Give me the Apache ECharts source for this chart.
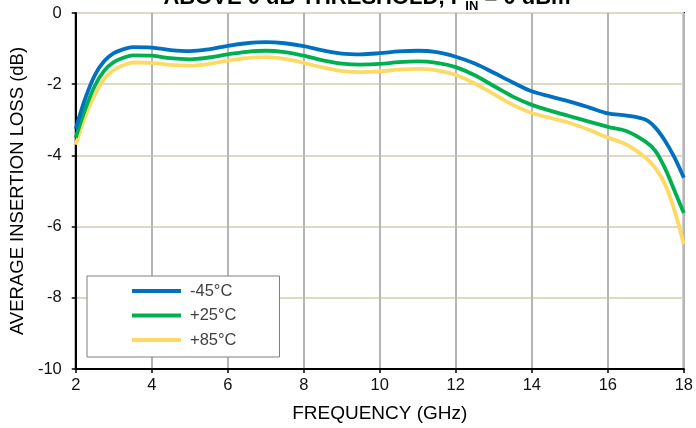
<!DOCTYPE html>
<html>
<head>
<meta charset="utf-8">
<script src="https://cdn.jsdelivr.net/npm/echarts@6/dist/echarts.min.js"></script>
<style>
  html, body { margin: 0; padding: 0; background: #fff; }
  #chart { width: 696px; height: 428px; }
</style>
</head>
<body>
<div id="chart"></div>
<script>
// Frequency points (GHz)
const freqGHz = [2, 2.25, 2.5, 2.75, 3, 3.25, 3.5, 4, 4.5, 5, 5.5, 6, 6.5, 7, 7.5, 8, 8.5, 9, 9.5, 10,
  10.5, 11, 11.5, 12, 12.5, 13, 13.5, 14, 14.5, 15, 15.5, 16, 16.5, 17, 17.25, 17.5, 17.75, 18];

// Average insertion loss (dB) per temperature
const lossMinus45 = [-3.25, -2.4, -1.75, -1.35, -1.13, -1.02, -0.96, -0.97, -1.04, -1.07, -1.02, -0.92, -0.85, -0.82,
  -0.85, -0.93, -1.05, -1.14, -1.16, -1.13, -1.08, -1.06, -1.1, -1.23, -1.42, -1.68, -1.95, -2.2, -2.35, -2.49,
  -2.65, -2.82, -2.88, -3.0, -3.22, -3.58, -4.05, -4.63];
const lossPlus25 = [-3.5, -2.7, -2.05, -1.62, -1.38, -1.26, -1.19, -1.2, -1.27, -1.3, -1.25, -1.16, -1.09, -1.06,
  -1.1, -1.2, -1.33, -1.42, -1.45, -1.43, -1.38, -1.36, -1.4, -1.52, -1.75, -2.05, -2.35, -2.58, -2.75, -2.9,
  -3.05, -3.2, -3.32, -3.62, -3.87, -4.35, -4.98, -5.62];
const lossPlus85 = [-3.7, -2.9, -2.3, -1.85, -1.6, -1.47, -1.39, -1.4, -1.46, -1.48, -1.43, -1.34, -1.27, -1.24,
  -1.29, -1.4, -1.53, -1.63, -1.66, -1.64, -1.59, -1.57, -1.61, -1.74, -1.98, -2.28, -2.58, -2.81, -2.95, -3.09,
  -3.28, -3.5, -3.7, -4.07, -4.36, -4.8, -5.53, -6.5];

const seriesNames = ['-45°C', '+25°C', '+85°C'];
const seriesColors = ['#0070c0', '#00b050', '#ffd966'];
const seriesData = [lossMinus45, lossPlus25, lossPlus85];

// Axis tick settings
const xMin = 2, xMax = 18, xStep = 2;
const yMin = -10, yMax = 0, yStep = 2;

const FONT = 'Liberation Sans, Arial, sans-serif';

const chart = echarts.init(document.getElementById('chart'), null, { renderer: 'canvas' });

chart.setOption({
  backgroundColor: '#fff',
  animation: false,
  title: {
    text: '{m|ABOVE 0 dB THRESHOLD, P}{s|IN}{m| = 0 dBm}',
    left: 362,
    textAlign: 'center',
    top: -18,
    textStyle: {
      rich: {
        m: { fontFamily: FONT, fontWeight: 'bold', fontSize: 22, color: '#000', lineHeight: 26, verticalAlign: 'top' },
        s: { fontFamily: FONT, fontWeight: 'bold', fontSize: 13, color: '#000', lineHeight: 26, verticalAlign: 'bottom', padding: [12, 0, 0, 0] }
      }
    }
  },
  grid: {
    left: 73, right: 10, top: 13, bottom: 59,
    show: true,
    borderColor: '#000',
    borderWidth: 2,
    backgroundColor: '#fff'
  },
  legend: {
    orient: 'vertical',
    left: 87,
    top: 276,
    backgroundColor: '#fff',
    borderColor: '#7f7f7f',
    borderWidth: 1,
    borderRadius: 0,
    padding: [6, 43, 8, 45],
    itemGap: 6.5,
    itemWidth: 49,
    itemHeight: 4,
    icon: 'rect',
    textStyle: { fontFamily: FONT, fontSize: 16.5, color: '#404040', lineHeight: 18, padding: [0, 0, 0, 4] },
    data: seriesNames
  },
  xAxis: {
    type: 'value',
    min: xMin, max: xMax, interval: xStep,
    name: 'FREQUENCY (GHz)',
    nameLocation: 'middle',
    nameGap: 35,
    nameTextStyle: { fontFamily: FONT, fontSize: 19, color: '#000' },
    axisLine: { onZero: false, lineStyle: { color: '#000', width: 2 } },
    axisTick: { show: true, length: 4, lineStyle: { color: '#000', width: 1.5 } },
    axisLabel: { margin: 8, fontFamily: FONT, fontSize: 16.5, color: '#111' },
    splitLine: { show: true, lineStyle: { color: '#b5b5b5', width: 2 } }
  },
  yAxis: {
    type: 'value',
    min: yMin, max: yMax, interval: yStep,
    name: 'AVERAGE INSERTION LOSS (dB)',
    nameLocation: 'middle',
    nameGap: 48,
    nameRotate: 90,
    nameTextStyle: { fontFamily: FONT, fontSize: 18.5, color: '#000' },
    axisLine: { show: true, onZero: false, lineStyle: { color: '#000', width: 2 } },
    axisTick: { show: true, length: 4, lineStyle: { color: '#000', width: 1.5 } },
    axisLabel: { margin: 14, fontFamily: FONT, fontSize: 16.5, color: '#111' },
    splitLine: { show: true, lineStyle: { color: '#dcd9c4', width: 2 } }
  },
  series: seriesNames.map((name, i) => ({
    name: name,
    type: 'line',
    smooth: 0.35,
    showSymbol: false,
    symbol: 'none',
    z: 3 - i,
    color: seriesColors[i],
    lineStyle: { color: seriesColors[i], width: 3.8 },
    data: freqGHz.map((f, k) => [f, seriesData[i][k]])
  }))
});
</script>
</body>
</html>
